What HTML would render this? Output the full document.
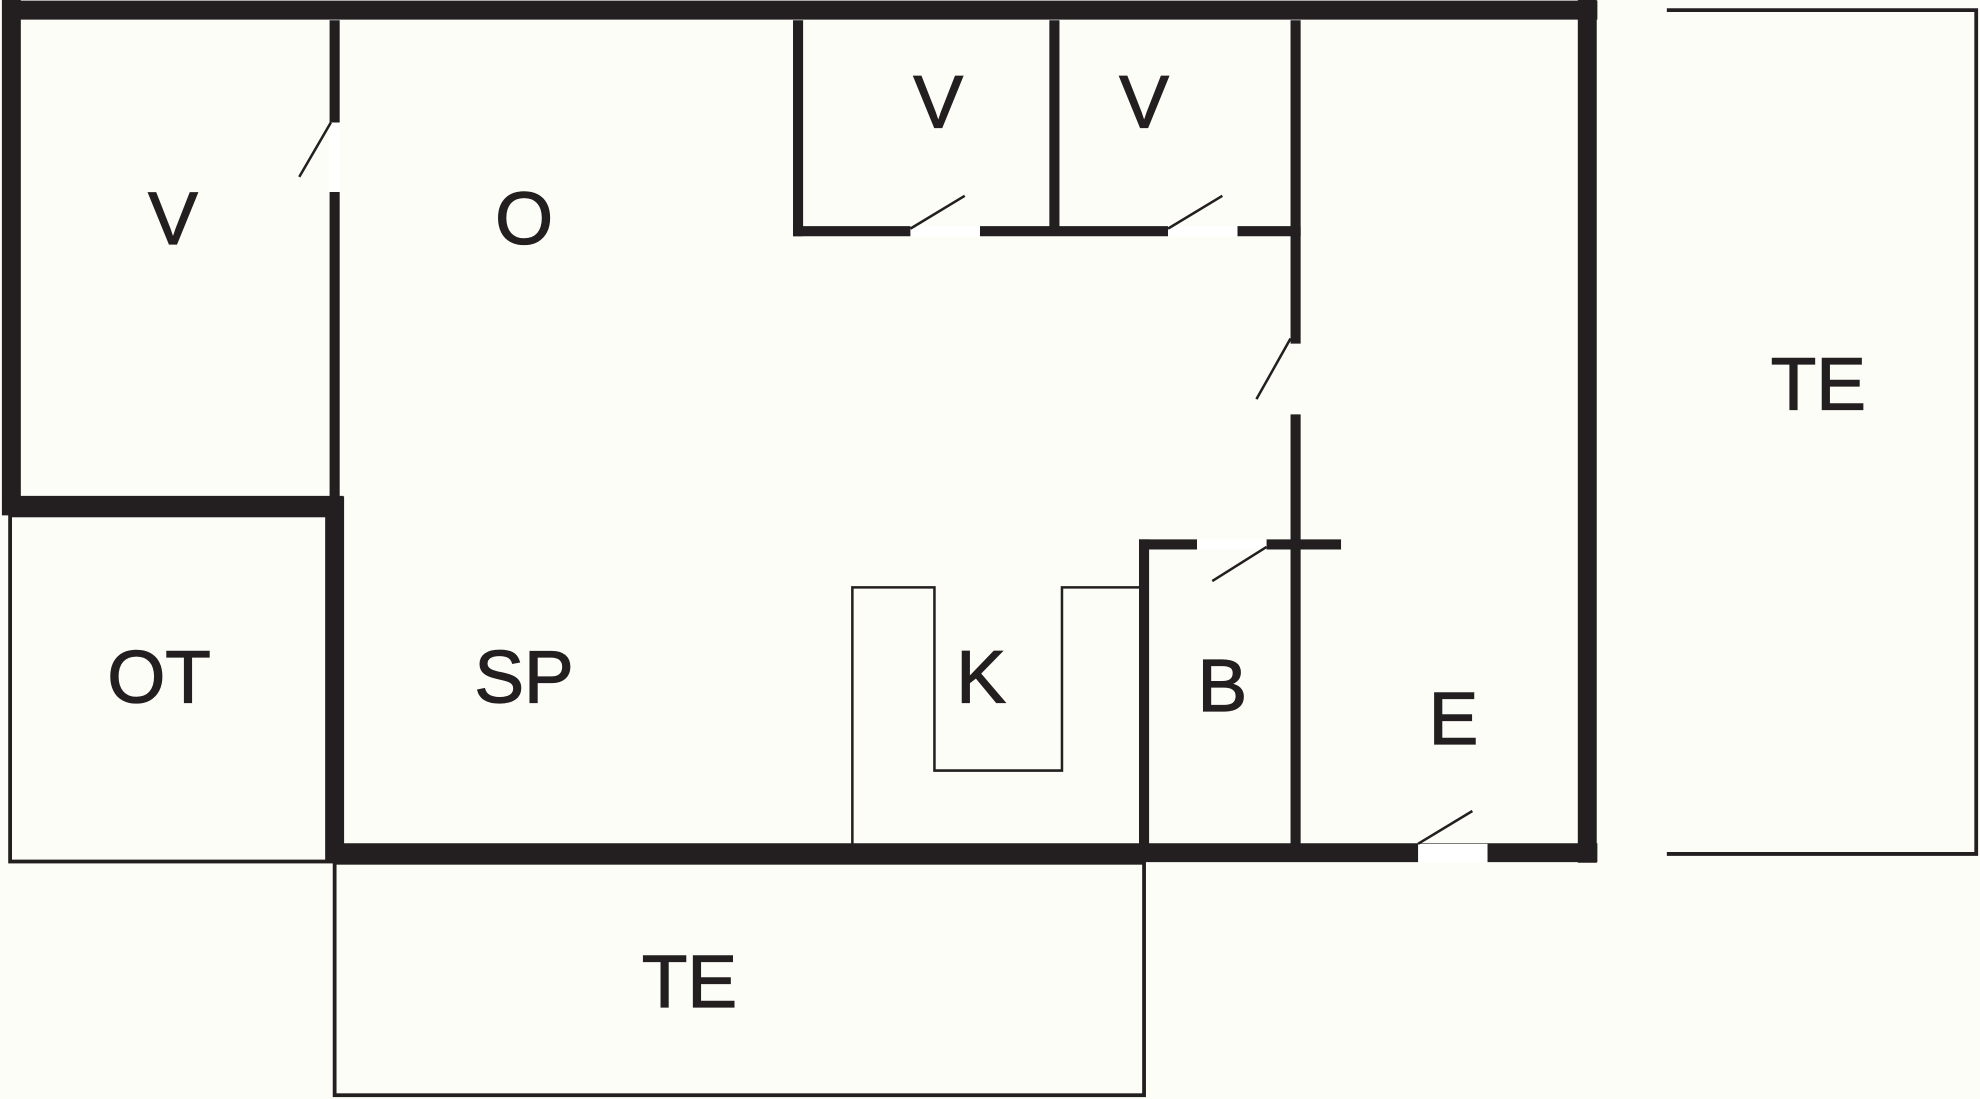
<!DOCTYPE html>
<html><head><style>html,body{margin:0;padding:0;background:#fdfdf8;}svg{display:block}</style></head>
<body>
<svg width="1980" height="1099" viewBox="0 0 1568 870" preserveAspectRatio="none" xmlns="http://www.w3.org/2000/svg">
<rect width="1568" height="870" fill="#fdfdf8"/>
<g stroke="#231f20" fill="none" stroke-linecap="square">
<rect x="8" y="408" width="257" height="274" stroke-width="3"/>
<rect x="265" y="683" width="641" height="184" stroke-width="3"/>
<polyline points="1320,8 1565,8 1565,676 1320,676" stroke-width="3" stroke-linecap="butt"/>
<polyline points="675,668 675,465 740,465 740,610 841,610 841,465 902,465" stroke-width="2" stroke-linecap="butt"/>
<g stroke-width="15" stroke-linecap="butt">
<line x1="2" y1="8" x2="1265" y2="8"/>
<line x1="9" y1="0" x2="9" y2="408"/>
<line x1="1257" y1="0" x2="1257" y2="683"/>
<line x1="258" y1="675" x2="1265" y2="675"/>
<line x1="2" y1="400" x2="272" y2="400"/>
<line x1="265" y1="393" x2="265" y2="683"/>
</g>
<g stroke-width="8" stroke-linecap="butt">
<line x1="265" y1="16" x2="265" y2="97"/>
<line x1="265" y1="152" x2="265" y2="393"/>
<line x1="632" y1="16" x2="632" y2="187"/>
<line x1="835" y1="16" x2="835" y2="183"/>
<line x1="628" y1="183" x2="721" y2="183"/>
<line x1="776" y1="183" x2="925" y2="183"/>
<line x1="980" y1="183" x2="1030" y2="183"/>
<line x1="1026" y1="16" x2="1026" y2="272"/>
<line x1="1026" y1="328" x2="1026" y2="668"/>
<line x1="906" y1="427" x2="906" y2="668"/>
<line x1="902" y1="431" x2="948" y2="431"/>
<line x1="1003" y1="431" x2="1062" y2="431"/>
</g>
</g>
<g fill="#ffffff">
<rect x="1123" y="668" width="55" height="15"/>
<rect x="261" y="97" width="8" height="55"/>
<rect x="721" y="179" width="55" height="8"/>
<rect x="925" y="179" width="55" height="8"/>
<rect x="948" y="427" width="55" height="8"/>
</g>
<g stroke="#231f20" stroke-width="2" stroke-linecap="butt">
<line x1="237" y1="140" x2="262" y2="97"/>
<line x1="721" y1="181" x2="764" y2="155"/>
<line x1="925" y1="181" x2="968" y2="155"/>
<line x1="995" y1="316" x2="1022" y2="268"/>
<line x1="960" y1="460" x2="1003" y2="433"/>
<line x1="1123" y1="668" x2="1166" y2="642"/>
</g>
<g font-family="Liberation Sans, sans-serif" font-size="59" fill="#231f20" stroke="#231f20" stroke-width="1" text-anchor="middle">
<text x="137" y="193">V</text>
<text x="415" y="193">O</text>
<text x="743" y="101">V</text>
<text x="906" y="101">V</text>
<text x="1440" y="324">TE</text>
<text x="126" y="556">OT</text>
<text x="415" y="556">SP</text>
<text x="777" y="556">K</text>
<text x="968" y="563">B</text>
<text x="1151" y="589">E</text>
<text x="546" y="797">TE</text>
</g>
</svg>
</body></html>
